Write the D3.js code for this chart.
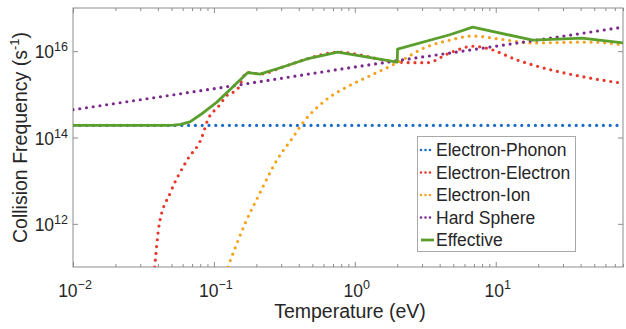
<!DOCTYPE html>
<html>
<head>
<meta charset="utf-8">
<script src="https://cdn.jsdelivr.net/npm/d3@7"></script>
<style>
  body { margin: 0; background: #fff; }
  svg { display: block; font-family: "Liberation Sans", Arial, sans-serif; }
</style>
</head>
<body>
<svg id="viz" width="626" height="329"></svg>
<script>
// Data (temperature in eV, frequency in 1/s)

var xMajor = [0.01, 0.1, 1, 10];
var xMajorExp = ["-2", "-1", "0", "1"];
var yMajor = [1e12, 1e14, 1e16];
var yMajorExp = ["12", "14", "16"];

var phononT = [0.01, 80];
var phononNu = [1.9e14, 1.9e14];

var eeT = [0.038, 0.041, 0.049, 0.0645, 0.082, 0.0906, 0.107, 0.1255, 0.1455, 0.172, 0.212, 0.308, 0.457, 0.757, 2.0, 2.45, 3.24, 4.72, 6.87, 8.63, 14.1, 18.3, 46, 80];
var eeNu = [1e11, 1e12, 5.2e12, 3e13, 1e14, 2.6e14, 5.1e14, 9.8e14, 1.26e15, 3.2e15, 2.95e15, 4.3e15, 6.6e15, 9.5e15, 5.6e15, 5.4e15, 5.4e15, 9.1e15, 1.3e16, 1.17e16, 6.3e15, 4.8e15, 2.4e15, 1.8e15];

var ionT = [0.1256, 0.166, 0.212, 0.28, 0.363, 0.428, 0.537, 0.665, 0.877, 1.22, 2.0, 3.24, 4.72, 6.87, 10.7, 18.3, 46, 80];
var ionNu = [1e11, 1e12, 5.2e12, 3e13, 1e14, 2.2e14, 4.9e14, 8.7e14, 1.48e15, 2.5e15, 5.4e15, 1.26e16, 1.8e16, 2.24e16, 1.9e16, 1.55e16, 1.62e16, 1.4e16];

var hardT = [0.01, 0.1, 1, 10, 80];
var hardNu = [4.4e14, 1.35e15, 4.3e15, 1.3e16, 3.6e16];

var effT = [0.01, 0.045, 0.052, 0.058, 0.0676, 0.0836, 0.105, 0.136, 0.174, 0.212, 0.308, 0.457, 0.757, 2.0, 2.01, 4.72, 6.87, 18.3, 41, 80];
var effNu = [1.9e14, 1.9e14, 1.93e14, 2.02e14, 2.3e14, 3.7e14, 6.6e14, 1.48e15, 3.2e15, 2.95e15, 4.3e15, 6.6e15, 9.5e15, 5.6e15, 1.12e16, 2.4e16, 3.6e16, 1.8e16, 2.0e16, 1.55e16];

var seriesNames = ["Electron-Phonon", "Electron-Electron", "Electron-Ion", "Hard Sphere", "Effective"];
var seriesColors = ["#1a6cc8", "#e8382a", "#f5a21c", "#7a2a8c", "#5a9e2c"];

var series = [
  {name: seriesNames[0], t: phononT, nu: phononNu, color: seriesColors[0], dotted: true},
  {name: seriesNames[1], t: eeT, nu: eeNu, color: seriesColors[1], dotted: true},
  {name: seriesNames[2], t: ionT, nu: ionNu, color: seriesColors[2], dotted: true},
  {name: seriesNames[3], t: hardT, nu: hardNu, color: seriesColors[3], dotted: true},
  {name: seriesNames[4], t: effT, nu: effNu, color: seriesColors[4], dotted: false}
];

// Layout (plot box edges)

var svg = d3.select("#viz"),
    plotL = 73, plotR = 623, plotT = 8, plotB = 267;

var x = d3.scaleLog().domain([0.01, 80]).range([plotL, plotR]);
var y = d3.scaleLog().domain([1e11, 1e17]).range([plotB, plotT]);

var axisColor = "#8c8c8c",
    textColor = "#262626";

// minor ticks 2..9 per decade
var xMinor = [];
xMajor.forEach(function(d) {
  for (var k = 2; k <= 9; k++) if (d * k <= 80) xMinor.push(d * k);
});

svg.append("defs").append("clipPath").attr("id", "plotclip")
  .append("rect").attr("x", plotL).attr("y", plotT)
  .attr("width", plotR - plotL).attr("height", plotB - plotT);

// Axes (ticks pointing inward, box on)

function styleAxis(g) {
  g.select(".domain").remove();
  g.selectAll("line").attr("stroke", axisColor);
}

svg.append("g").attr("transform", "translate(0," + plotB + ")")
  .call(d3.axisBottom(x).tickValues(xMinor).tickSize(-3).tickFormat(""))
  .call(styleAxis);
svg.append("g").attr("transform", "translate(0," + plotB + ")")
  .call(d3.axisBottom(x).tickValues(xMajor).tickSize(-5).tickFormat(""))
  .call(styleAxis);
svg.append("g").attr("transform", "translate(0," + plotT + ")")
  .call(d3.axisTop(x).tickValues(xMinor).tickSize(-3).tickFormat(""))
  .call(styleAxis);
svg.append("g").attr("transform", "translate(0," + plotT + ")")
  .call(d3.axisTop(x).tickValues(xMajor).tickSize(-5).tickFormat(""))
  .call(styleAxis);
svg.append("g").attr("transform", "translate(" + plotL + ",0)")
  .call(d3.axisLeft(y).tickValues(yMajor).tickSize(-5).tickFormat(""))
  .call(styleAxis);
svg.append("g").attr("transform", "translate(" + plotR + ",0)")
  .call(d3.axisRight(y).tickValues(yMajor).tickSize(-5).tickFormat(""))
  .call(styleAxis);

svg.append("rect")
  .attr("x", plotL).attr("y", plotT)
  .attr("width", plotR - plotL).attr("height", plotB - plotT)
  .attr("fill", "none").attr("stroke", axisColor).attr("stroke-width", 1);

// Tick labels with superscripts

var xLab = svg.append("g").selectAll("text")
  .data(xMajor).enter().append("text")
  .attr("x", d => x(d) + 2)
  .attr("y", 297)
  .attr("text-anchor", "middle")
  .attr("fill", textColor)
  .style("font-size", "17.5px");
xLab.append("tspan").text("10");
xLab.append("tspan").attr("dy", -8).style("font-size", "12.5px")
  .text((d, i) => xMajorExp[i].replace("-", "\u2212"));

var yLab = svg.append("g").selectAll("text")
  .data(yMajor).enter().append("text")
  .attr("x", 68)
  .attr("y", d => y(d) + 7)
  .attr("text-anchor", "end")
  .attr("fill", textColor)
  .style("font-size", "17.5px");
yLab.append("tspan").text("10");
yLab.append("tspan").attr("dy", -7).style("font-size", "12.5px")
  .text((d, i) => yMajorExp[i]);

// Axis titles

svg.append("text")
  .attr("x", (plotL + plotR) / 2 + 2)
  .attr("y", 318)
  .attr("text-anchor", "middle")
  .attr("fill", textColor)
  .style("font-size", "19.5px")
  .text("Temperature (eV)");

var yTitle = svg.append("text")
  .attr("transform", "translate(27," + ((plotT + plotB) / 2) + ") rotate(-90)")
  .attr("text-anchor", "middle")
  .attr("fill", textColor)
  .style("font-size", "19.5px");
yTitle.append("tspan").text("Collision Frequency (s");
yTitle.append("tspan").attr("dy", -8).style("font-size", "13px").text("-1");
yTitle.append("tspan").attr("dy", 8).text(")");

// Series: dotted components smoothed, effective drawn straight between points

var smoothLine = d3.line()
  .x(d => x(d[0]))
  .y(d => y(d[1]))
  .curve(d3.curveMonotoneX);

var straightLine = d3.line()
  .x(d => x(d[0]))
  .y(d => y(d[1]));

var plot = svg.append("g").attr("clip-path", "url(#plotclip)");

series.forEach(function(s) {
  var pts = s.t.map((t, i) => [t, s.nu[i]]);
  var path = plot.append("path")
    .datum(pts)
    .attr("d", s.dotted ? smoothLine : straightLine)
    .attr("fill", "none")
    .attr("stroke", s.color)
    .attr("stroke-linejoin", "round");
  if (s.dotted) {
    path.attr("stroke-width", 3.2)
      .attr("stroke-linecap", "round")
      .attr("stroke-dasharray", "0 6.8");
  } else {
    path.attr("stroke-width", 2.8);
  }
});

// Legend

var lg = svg.append("g");
lg.append("rect")
  .attr("x", 417.5).attr("y", 136.5)
  .attr("width", 158).attr("height", 115)
  .attr("fill", "#fff").attr("stroke", "#a8a8a8").attr("stroke-width", 1);

series.forEach(function(s, i) {
  var cy = 150 + i * 22.5;
  var sample = lg.append("line")
    .attr("x1", 421).attr("x2", 434)
    .attr("y1", cy).attr("y2", cy)
    .attr("stroke", s.color);
  if (s.dotted) {
    sample.attr("stroke-width", 2.6)
      .attr("stroke-linecap", "round")
      .attr("stroke-dasharray", "0 4.5");
  } else {
    sample.attr("stroke-width", 2.8);
  }
  lg.append("text")
    .attr("x", 436).attr("y", cy + 6)
    .attr("fill", textColor)
    .style("font-size", "17.5px")
    .text(s.name);
});
</script>
</body>
</html>
